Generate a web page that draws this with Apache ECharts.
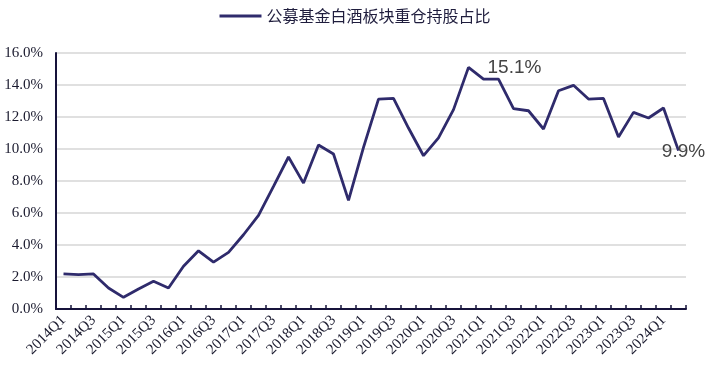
<!DOCTYPE html>
<html>
<head>
<meta charset="utf-8">
<script src="https://cdn.jsdelivr.net/npm/echarts@6/dist/echarts.min.js"></script>
<style>
html,body{margin:0;padding:0;background:#fff;}
#chart{width:710px;height:367px;}
</style>
</head>
<body>
<div id="chart"></div>
<script>
var seriesName = '公募基金白酒板块重仓持股占比';
var categories = [
  '2014Q1','2014Q2','2014Q3','2014Q4',
  '2015Q1','2015Q2','2015Q3','2015Q4',
  '2016Q1','2016Q2','2016Q3','2016Q4',
  '2017Q1','2017Q2','2017Q3','2017Q4',
  '2018Q1','2018Q2','2018Q3','2018Q4',
  '2019Q1','2019Q2','2019Q3','2019Q4',
  '2020Q1','2020Q2','2020Q3','2020Q4',
  '2021Q1','2021Q2','2021Q3','2021Q4',
  '2022Q1','2022Q2','2022Q3','2022Q4',
  '2023Q1','2023Q2','2023Q3','2023Q4',
  '2024Q1','2024Q2'
];
var values = [
  2.19, 2.15, 2.19, 1.31,
  0.73, 1.25, 1.73, 1.31,
  2.67, 3.64, 2.93, 3.54,
  4.64, 5.85, 7.66, 9.50,
  7.87, 10.25, 9.69, 6.79,
  10.10, 13.12, 13.16, 11.31,
  9.58, 10.69, 12.46, 15.10,
  14.37, 14.37, 12.52, 12.39,
  11.25, 13.64, 13.98, 13.12,
  13.16, 10.75, 12.29, 11.94,
  12.56, 9.90
];
var peakIndex = 27;
var lastIndex = 41;

var chart = echarts.init(document.getElementById('chart'));
var data = values.map(function (v, i) {
  if (i === peakIndex) {
    return { value: v, label: { show: true, position: 'right', distance: 19 } };
  }
  if (i === lastIndex) {
    return { value: v, label: { show: true, position: 'inside', offset: [5, 1] } };
  }
  return v;
});

chart.setOption({
  animation: false,
  backgroundColor: '#ffffff',
  legend: {
    data: [seriesName],
    top: 3,
    left: 'center',
    icon: 'rect',
    itemWidth: 42,
    itemHeight: 3,
    itemGap: 10,
    textStyle: { fontFamily: 'Noto Sans CJK SC', fontSize: 16, color: '#1f1d3d' }
  },
  grid: { left: 56, right: 24, top: 53, bottom: 58, containLabel: false },
  xAxis: {
    type: 'category',
    data: categories,
    boundaryGap: true,
    axisLine: { lineStyle: { color: '#16133b', width: 2 } },
    axisTick: { show: true, inside: true, length: 4, interval: 0, lineStyle: { color: '#16133b', width: 1.5 } },
    axisLabel: {
      interval: 1,
      rotate: 45,
      margin: 9,
      fontFamily: 'Liberation Serif',
      fontSize: 15,
      color: '#1a1a2e'
    },
    splitLine: { show: false }
  },
  yAxis: {
    type: 'value',
    min: 0,
    max: 16,
    interval: 2,
    axisLine: { show: true, lineStyle: { color: '#16133b', width: 2 } },
    axisTick: { show: false },
    axisLabel: {
      margin: 13,
      fontFamily: 'Liberation Serif',
      fontSize: 15,
      color: '#1a1a2e',
      formatter: function (v) { return v.toFixed(1) + '%'; }
    },
    splitLine: { lineStyle: { color: '#d6d6d6', width: 1.5 } }
  },
  series: [{
    name: seriesName,
    type: 'line',
    data: data,
    showSymbol: true,
    symbol: 'circle',
    symbolSize: 0,
    lineStyle: { color: '#2f2b6c', width: 2.8 },
    itemStyle: { color: '#2f2b6c' },
    label: {
      show: false,
      fontFamily: 'Liberation Sans',
      fontSize: 19,
      color: '#444444',
      formatter: function (p) { return p.value.toFixed(1) + '%'; }
    }
  }]
});
</script>
</body>
</html>
